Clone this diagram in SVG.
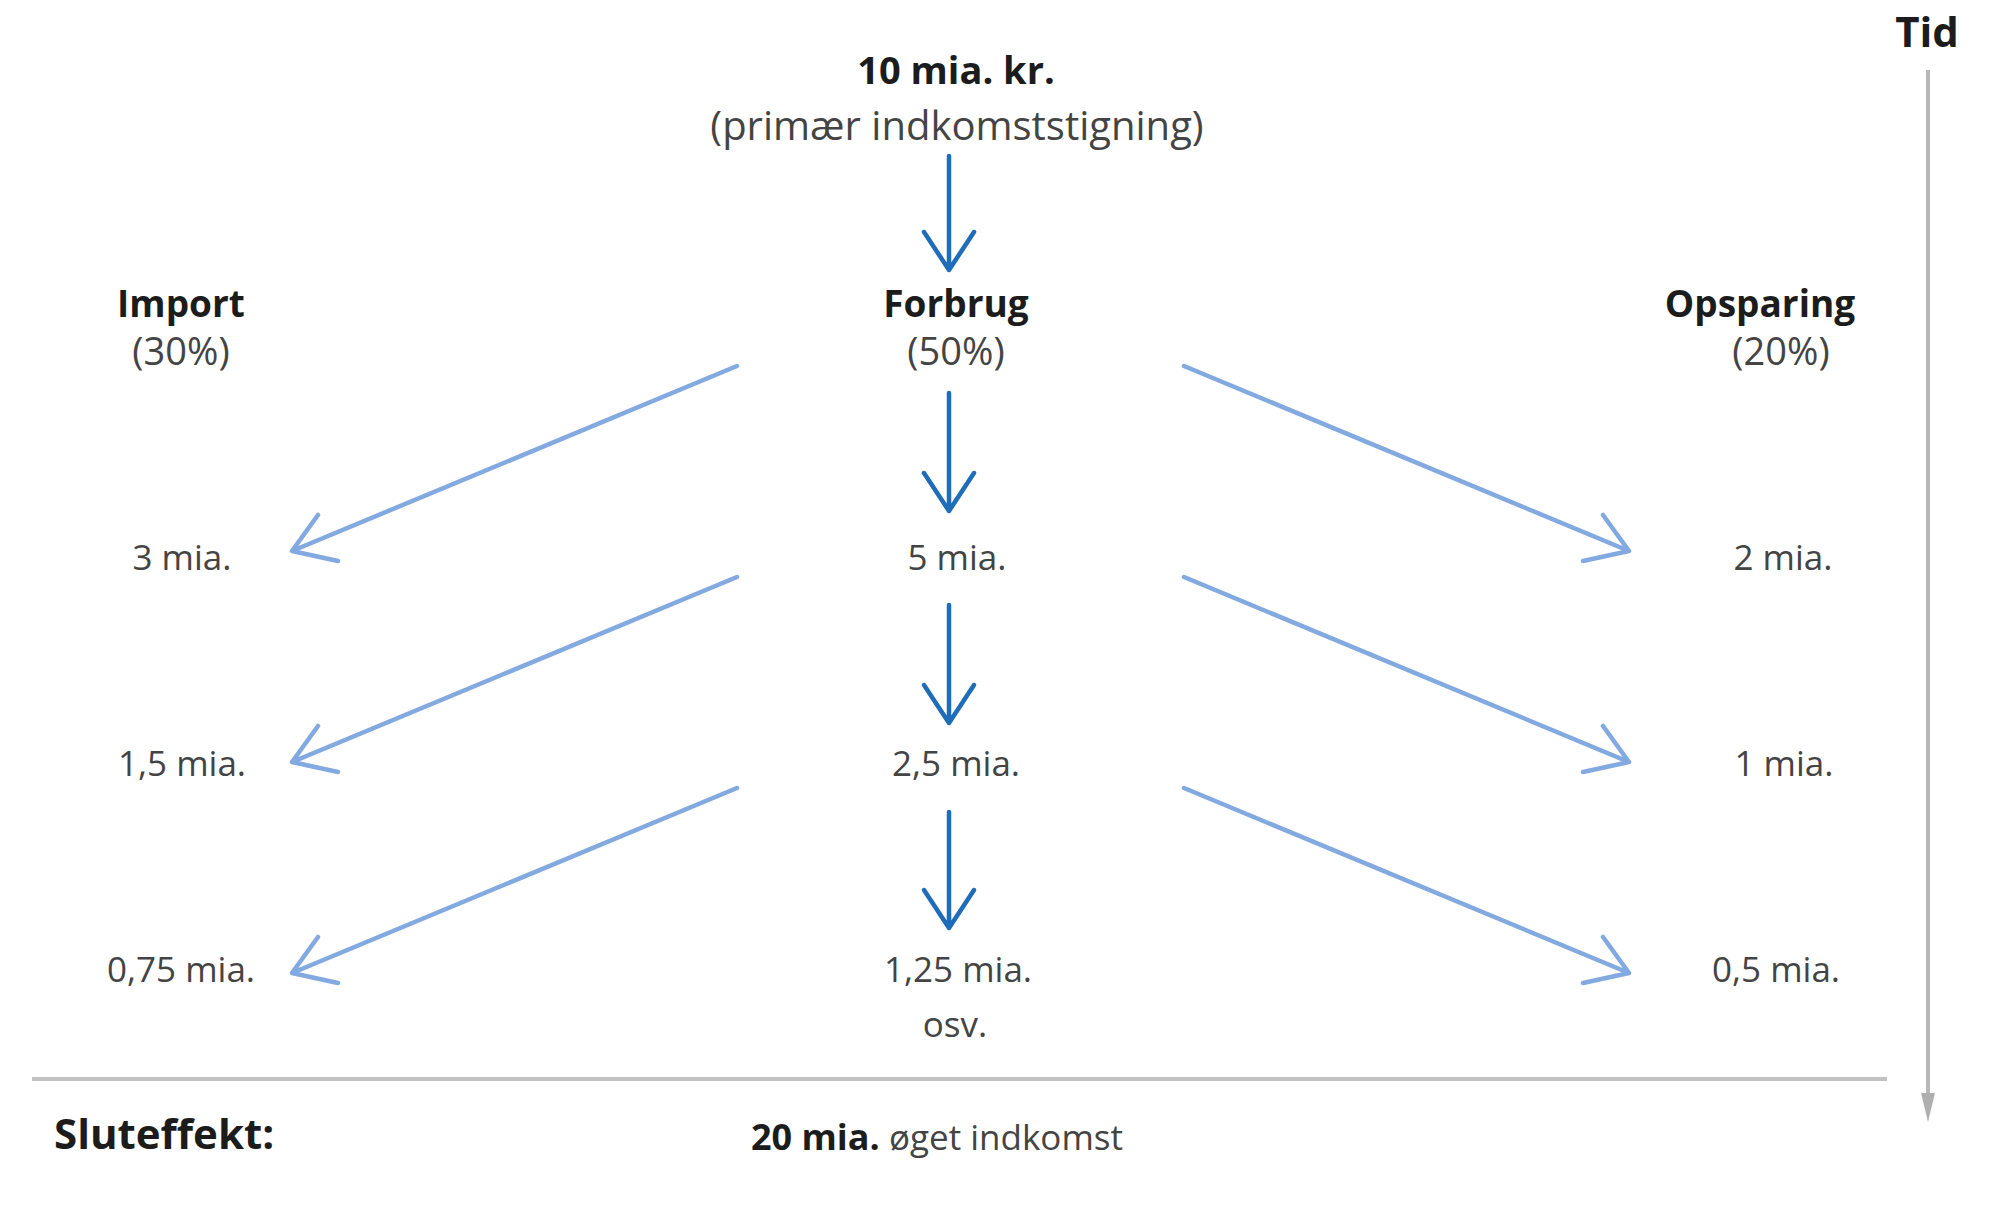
<svg xmlns="http://www.w3.org/2000/svg" width="2000" height="1211" viewBox="0 0 2000 1211">
<defs>
<style>
text{font-family:"Open Sans","Liberation Sans",sans-serif;}
.b{font-weight:700;fill:#1c1c1c;}
.r{font-weight:400;fill:#444;}
.c{text-anchor:middle;}
.dk{stroke:#1f6db8;stroke-width:4.5;fill:none;stroke-linecap:round;stroke-linejoin:round;}
.lt{stroke:#82a9e0;stroke-width:4.5;fill:none;stroke-linecap:round;stroke-linejoin:round;}
</style>
</defs>
<rect width="2000" height="1211" fill="#fff"/>
<g id="time-axis">
<text class="b c" x="1927" y="47" font-size="42">Tid</text>
<line x1="1928" y1="70" x2="1928" y2="1100" stroke="#b8b8b8" stroke-width="4"/>
<polygon points="1921,1093 1935,1093 1928,1122" fill="#b0b0b0"/>
</g>
<g id="node-top">
<text class="b c" x="956" y="84" font-size="38">10 mia. kr.</text>
<text class="r c" x="957" y="140" font-size="40">(primær indkomststigning)</text>
</g>
<g id="node-import">
<text class="b c" x="181" y="317" font-size="37">Import</text>
<text class="r c" x="181" y="365" font-size="38">(30%)</text>
</g>
<g id="node-forbrug">
<text class="b c" x="956" y="317" font-size="37">Forbrug</text>
<text class="r c" x="956" y="365" font-size="38">(50%)</text>
</g>
<g id="node-opsparing">
<text class="b c" x="1760" y="317" font-size="37">Opsparing</text>
<text class="r c" x="1781" y="365" font-size="38">(20%)</text>
</g>
<g id="row1">
<text class="r c" x="182" y="570" font-size="35">3 mia.</text>
<text class="r c" x="957" y="570" font-size="35">5 mia.</text>
<text class="r c" x="1783" y="570" font-size="35">2 mia.</text>
</g>
<g id="row2">
<text class="r c" x="182" y="776" font-size="35">1,5 mia.</text>
<text class="r c" x="956" y="776" font-size="35">2,5 mia.</text>
<text class="r c" x="1784" y="776" font-size="35">1 mia.</text>
</g>
<g id="row3">
<text class="r c" x="181" y="982" font-size="35">0,75 mia.</text>
<text class="r c" x="958" y="982" font-size="35">1,25 mia.</text>
<text class="r c" x="1776" y="982" font-size="35">0,5 mia.</text>
<text class="r c" x="955" y="1037" font-size="35">osv.</text>
</g>
<g id="connectors">
<path class="dk" d="M949,156 V270 M924,232 L949,270 L974,232"/>
<path class="dk" d="M949,393 V511 M924,473 L949,511 L974,473"/>
<path class="dk" d="M949,605 V723 M924,685 L949,723 L974,685"/>
<path class="dk" d="M949,812 V928 M924,890 L949,928 L974,890"/>
<path class="lt" d="M737,366 L292,551 M318,515 L292,551 L338,561"/>
<path class="lt" d="M737,577 L292,762 M318,726 L292,762 L338,772"/>
<path class="lt" d="M737,788 L292,973 M318,937 L292,973 L338,983"/>
<path class="lt" d="M1184,366 L1629,551 M1603,515 L1629,551 L1583,561"/>
<path class="lt" d="M1184,577 L1629,762 M1603,726 L1629,762 L1583,772"/>
<path class="lt" d="M1184,788 L1629,973 M1603,937 L1629,973 L1583,983"/>
</g>
<g id="summary">
<line x1="32" y1="1079" x2="1887" y2="1079" stroke="#c2c2c2" stroke-width="4"/>
<text class="b" x="54" y="1149" font-size="42">Sluteffekt:</text>
<text x="751" y="1150" font-size="36"><tspan class="b">20 mia.</tspan><tspan class="r" font-size="35"> øget indkomst</tspan></text>
</g>
</svg>
